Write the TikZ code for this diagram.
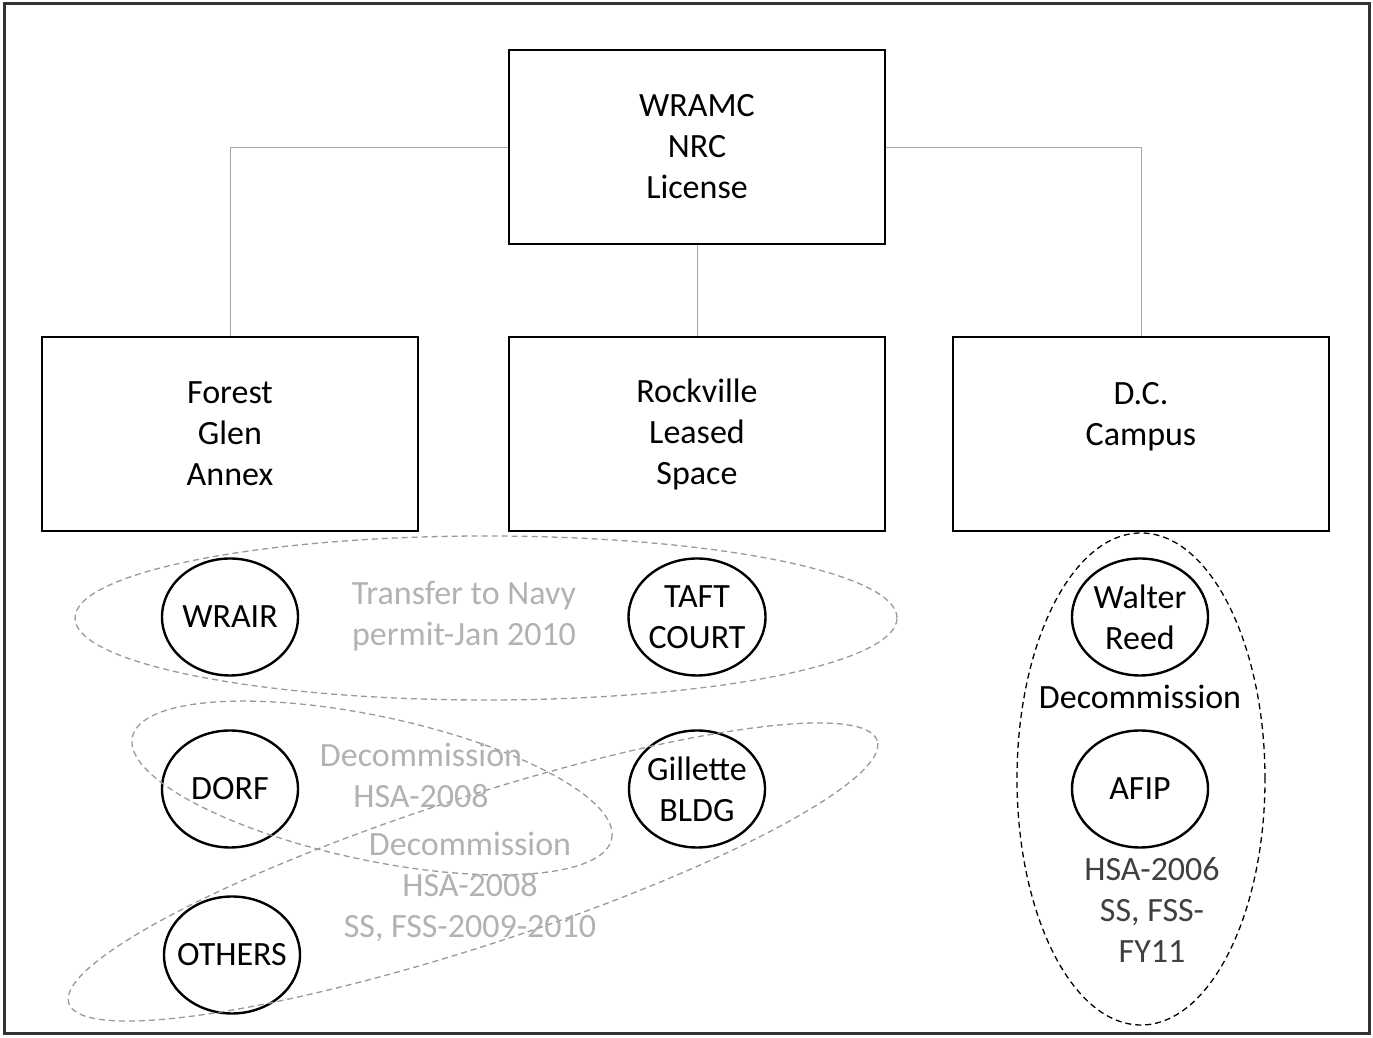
\documentclass[tikz,border=0pt]{standalone}
\usepackage{fontspec}
\setmainfont{Carlito}
\usetikzlibrary{shapes.geometric}

\tikzset{
  orgbox/.style={draw, line width=2.4pt, minimum width=376, minimum height=194, align=center, inner sep=0pt},
  sitecircle/.style={draw, ellipse, line width=2.4pt, minimum width=136, minimum height=117, align=center, inner sep=0pt},
  groupoval/.style={line width=1.3pt, dash pattern=on 6pt off 4pt, gray!80},
  linkedge/.style={line width=.9pt, gray!70},
  notetext/.style={align=center, text=gray!60}
}

\begin{document}
\begin{tikzpicture}[x=1pt, y=1pt, font=\fontsize{34}{41}\selectfont]
\useasboundingbox (0,0) rectangle (1373,1038);
\draw[line width=3pt, black!80] (4,4) rectangle (1369,1034);

% license and sites
\node[orgbox] (lic) at (697,891) {WRAMC\\NRC\\License};
\node[orgbox] (fg) at (230,604) {Forest\\Glen\\Annex};
\node[orgbox] (rls) at (697,604) {Rockville\\Leased\\Space};
\node[orgbox] (dc) at (1141,604) {D.C.\\Campus\\\mbox{}};

\draw[linkedge] (lic.west) -| (fg.north);
\draw[linkedge] (lic.east) -| (dc.north);
\draw[linkedge] (lic.south) -- (rls.north);

% buildings
\node[sitecircle] (wrair) at (230,421) {WRAIR};
\node[sitecircle] (taft) at (697,421) {TAFT\\COURT};
\node[sitecircle] (dorf) at (230,249) {DORF};
\node[sitecircle, inner xsep=-6pt] (gil) at (697,249) {Gillette\\BLDG};
\node[sitecircle, inner xsep=-8pt] (oth) at (232,83) {OTHERS};
\node[sitecircle] (wr) at (1140,421) {Walter\\Reed};
\node[sitecircle] (afip) at (1140,249) {AFIP};

% groupings
\draw[groupoval] (486,420) ellipse [x radius=411, y radius=82];
\draw[groupoval, rotate around={-12:(372,250)}] (372,250) ellipse [x radius=245, y radius=72];
\draw[groupoval, rotate around={18:(473,166)}] (473,166) ellipse [x radius=425, y radius=74];
\draw[groupoval, black] (1141,259) ellipse [x radius=124, y radius=246];

\node[notetext] (navy) at (464,422) {Transfer to Navy\\permit-Jan 2010};
\node[notetext] (dec1) at (421,263) {Decommission\\HSA-2008};
\node[notetext] (dec2) at (470,151) {Decommission\\HSA-2008\\SS, FSS-2009-2010};
\node (dec3) at (1140,341) {Decommission};
\node[notetext, text=black!75] (hsa) at (1152,128) {HSA-2006\\SS, FSS-\\FY11};
\end{tikzpicture}
\end{document}
